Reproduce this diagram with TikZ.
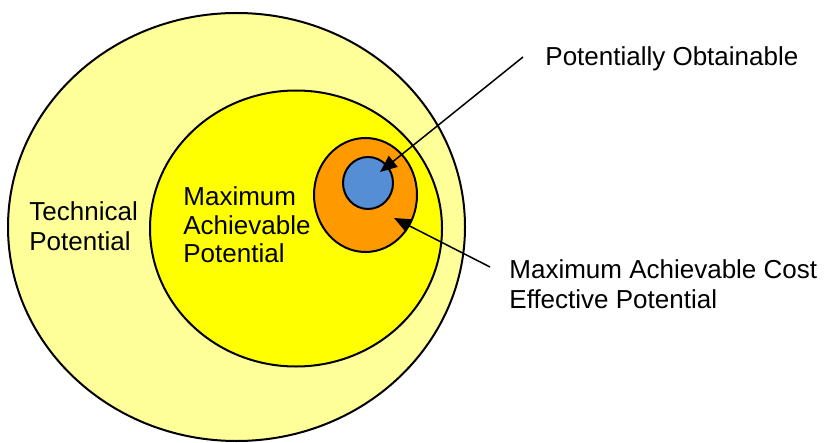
\documentclass[tikz,border=0pt]{standalone}
\usepackage{fontspec}
\setmainfont{Liberation Sans}
\usetikzlibrary{shapes.geometric, arrows.meta}

\definecolor{paleyellow}{HTML}{FFFF99}
\definecolor{brightyellow}{HTML}{FFFF00}
\definecolor{potorange}{HTML}{FF9900}
\definecolor{potblue}{HTML}{558ED5}

\tikzset{
    zone/.style={ellipse, draw=black, line width=1pt, inner sep=0pt},
    label/.style={anchor=north west, inner sep=0pt, align=left,
        font=\fontsize{13}{15}\selectfont},
    pointer/.style={line width=0.75pt, -{Triangle[length=8.5pt, width=7pt]}}
}

\begin{document}
\begin{tikzpicture}[x=0.5pt, y=-0.5pt]
    \useasboundingbox (0,0) rectangle (828,443);

    % Nested potentials
    \node[zone, fill=paleyellow, minimum width=228.5pt, minimum height=214pt] (technical) at (236.5,227) {};
    \node[zone, fill=brightyellow, minimum width=146pt, minimum height=138pt] (achievable) at (296,228.5) {};
    \node[zone, fill=potorange, minimum width=51.5pt, minimum height=57pt] (costeff) at (365.5,195) {};
    \node[zone, fill=potblue, minimum width=25pt, minimum height=26pt] (obtainable) at (368,183) {};

    \node[label] (technicaltext) at (29,201) {Technical\\Potential};
    \node[label, font=\fontsize{13}{14.25}\selectfont] (achievabletext) at (183,186.5) {Maximum\\Achievable\\Potential};

    % Callouts
    \node[label] (obtainabletext) at (545,46) {Potentially Obtainable};
    \node[label] (costefftext) at (509,259) {Maximum Achievable Cost\\Effective Potential};

    \coordinate (obtainablestart) at (523,57);
    \coordinate (obtainabletip) at (380,172);
    \coordinate (costeffstart) at (490,267);
    \coordinate (costefftip) at (394,218);

    \draw[pointer] (obtainablestart) -- (obtainabletip);
    \draw[pointer] (costeffstart) -- (costefftip);
\end{tikzpicture}
\end{document}
